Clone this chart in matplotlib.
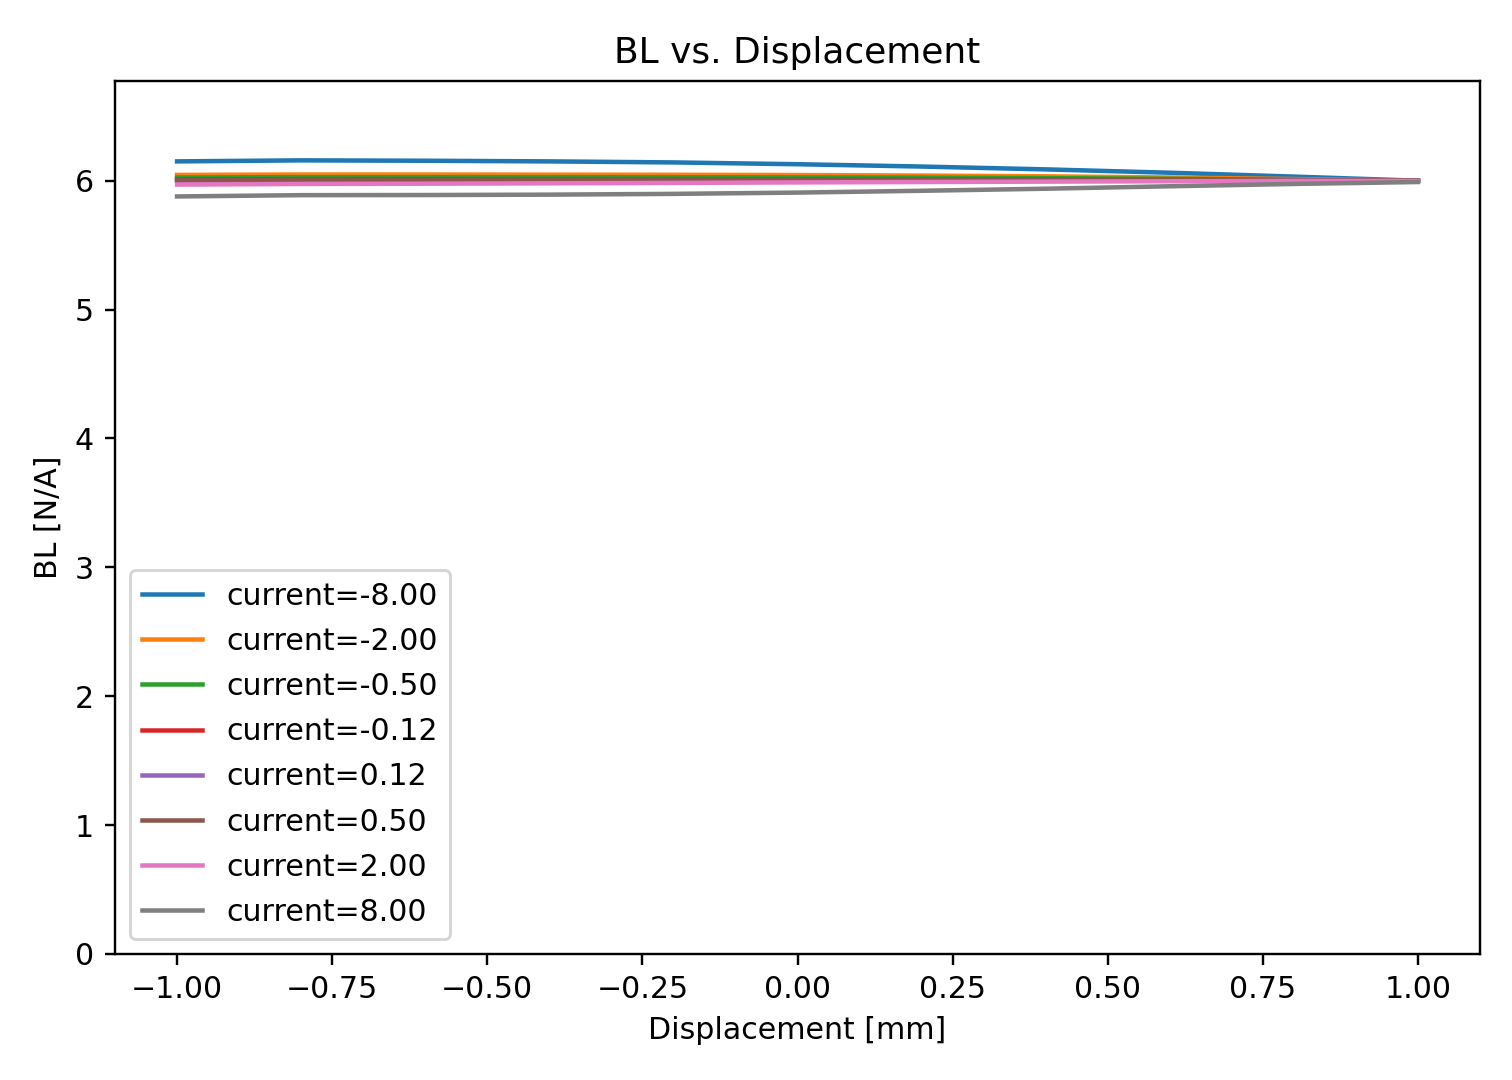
import matplotlib
matplotlib.use("Agg")
import matplotlib.pyplot as plt
import numpy as np

# displacement grid [mm]
displacement = [-1.0, -0.8, -0.6, -0.4, -0.2, 0.0, 0.2, 0.4, 0.6, 0.8, 1.0]
currents = [-8.00, -2.00, -0.50, -0.12, 0.12, 0.50, 2.00, 8.00]

# BL [N/A] per current
bl_m8 = [6.150, 6.158, 6.155, 6.150, 6.142, 6.128, 6.110, 6.088, 6.062, 6.032, 6.000]
bl_m2 = [6.045, 6.048, 6.048, 6.047, 6.046, 6.044, 6.040, 6.034, 6.025, 6.013, 6.000]
bl_m05 = [6.025, 6.028, 6.028, 6.028, 6.027, 6.026, 6.024, 6.020, 6.015, 6.008, 6.000]
bl_m012 = [6.010, 6.012, 6.012, 6.012, 6.012, 6.011, 6.010, 6.009, 6.007, 6.004, 6.000]
bl_p012 = [6.000, 6.002, 6.003, 6.004, 6.005, 6.005, 6.005, 6.005, 6.004, 6.002, 6.000]
bl_p05 = [6.005, 6.008, 6.008, 6.009, 6.009, 6.009, 6.008, 6.007, 6.005, 6.003, 6.000]
bl_p2 = [5.970, 5.975, 5.977, 5.980, 5.983, 5.987, 5.990, 5.993, 5.996, 5.998, 5.998]
bl_p8 = [5.878, 5.888, 5.889, 5.892, 5.898, 5.908, 5.922, 5.938, 5.957, 5.975, 5.990]

series = [bl_m8, bl_m2, bl_m05, bl_m012, bl_p012, bl_p05, bl_p2, bl_p8]

fig, ax = plt.subplots(figsize=(7, 5), dpi=216)
for cur, bl in zip(currents, series):
    ax.plot(displacement, bl, label=f"current={cur:.2f}")

ax.set_ylim(0, 1.1 * np.max(series))
ax.set_xlabel("Displacement [mm]")
ax.set_ylabel("BL [N/A]")
ax.set_title("BL vs. Displacement")
ax.legend(loc="lower left", labelspacing=0.54)
fig.subplots_adjust(left=0.0761, right=0.9788, top=0.925, bottom=0.1167)
fig.savefig("out.png", dpi=216)
